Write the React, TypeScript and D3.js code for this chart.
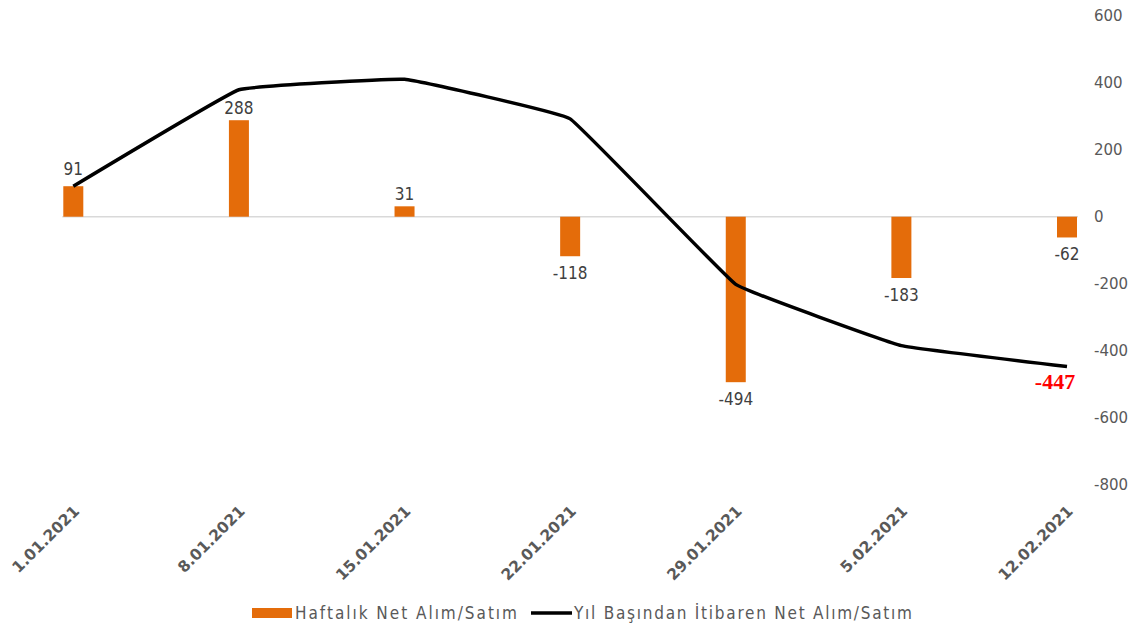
import { useEffect, useRef } from 'react';
import * as d3 from 'd3';

// haftalık veriler
const DATES = ['1.01.2021', '8.01.2021', '15.01.2021', '22.01.2021', '29.01.2021', '5.02.2021', '12.02.2021'];
const WEEKLY = [91, 288, 31, -118, -494, -183, -62];
const CUMULATIVE = [91, 379, 410, 292, -202, -385, -447];
const Y_TICKS = [600, 400, 200, 0, -200, -400, -600, -800];

const LEGEND = [
  { label: 'Haftalık Net Alım/Satım', kind: 'bar', textWidth: 222 },
  { label: 'Yıl Başından İtibaren Net Alım/Satım', kind: 'line', textWidth: 338 },
];

const WIDTH = 1141;
const HEIGHT = 628;
const BAR_COLOR = '#e46c0a';
const AXIS_TEXT = '#595959';
const LABEL_TEXT = '#404040';
const NARROW = "'Liberation Sans Narrow', 'DejaVu Sans Condensed', sans-serif";

export default function App() {
  const svgRef = useRef<SVGSVGElement>(null);

  useEffect(() => {
    document.body.style.margin = '0';
    if (!svgRef.current) return;

    const svg = d3.select(svgRef.current);
    svg.selectAll('*').remove();
    svg.attr('width', WIDTH).attr('height', HEIGHT);

    const x = d3.scalePoint<string>().domain(DATES).range([73.3, 1067]);
    const y = d3.scaleLinear().domain([-800, 600]).range([484.7, 15.7]);
    const barW = 20;

    // sıfır çizgisi
    svg
      .append('line')
      .attr('x1', (x(DATES[0]) as number) - barW / 2 - 1)
      .attr('x2', (x(DATES[DATES.length - 1]) as number) + barW / 2 + 1)
      .attr('y1', y(0))
      .attr('y2', y(0))
      .attr('stroke', '#d9d9d9')
      .attr('stroke-width', 1.5);

    // sağ eksen
    svg
      .append('g')
      .selectAll('text')
      .data(Y_TICKS)
      .enter()
      .append('text')
      .attr('x', 1094)
      .attr('y', (d) => y(d))
      .attr('dy', '0.36em')
      .attr('font-family', "'DejaVu Sans', sans-serif")
      .attr('font-size', 15)
      .attr('fill', AXIS_TEXT)
      .text((d) => String(d));

    // barlar
    svg
      .append('g')
      .selectAll('rect')
      .data(WEEKLY)
      .enter()
      .append('rect')
      .attr('x', (_, i) => (x(DATES[i]) as number) - barW / 2)
      .attr('y', (d) => y(Math.max(0, d)))
      .attr('width', barW)
      .attr('height', (d) => Math.abs(y(d) - y(0)))
      .attr('fill', BAR_COLOR);

    // bar etiketleri
    svg
      .append('g')
      .selectAll('text')
      .data(WEEKLY)
      .enter()
      .append('text')
      .attr('x', (_, i) => x(DATES[i]) as number)
      .attr('y', (d, i) => (d >= 0 ? y(d) - (i === 0 ? 11 : 6) : y(d) + 23))
      .attr('text-anchor', 'middle')
      .attr('font-family', NARROW)
      .attr('font-size', 17)
      .attr('fill', LABEL_TEXT)
      .text((d) => String(d));

    // kümülatif çizgi
    const line = d3
      .line<number>()
      .x((_, i) => x(DATES[i]) as number)
      .y((d) => y(d))
      .curve(d3.curveCardinal.tension(0.8));

    svg
      .append('path')
      .datum(CUMULATIVE)
      .attr('d', line)
      .attr('fill', 'none')
      .attr('stroke', '#000')
      .attr('stroke-width', 3.5)
      .attr('stroke-linejoin', 'round');

    // son değer etiketi
    const last = CUMULATIVE.length - 1;
    svg
      .append('text')
      .attr('x', (x(DATES[last]) as number) - 12)
      .attr('y', y(CUMULATIVE[last]) + 23)
      .attr('text-anchor', 'middle')
      .attr('font-family', "'Liberation Serif', 'Times New Roman', serif")
      .attr('font-weight', 'bold')
      .attr('font-size', 22)
      .attr('fill', '#ff0000')
      .text(String(CUMULATIVE[last]));

    // x ekseni etiketleri
    svg
      .append('g')
      .selectAll('text')
      .data(DATES)
      .enter()
      .append('text')
      .attr('transform', (d) => `translate(${(x(d) as number) + 7},512) rotate(-45)`)
      .attr('text-anchor', 'end')
      .attr('font-family', "'DejaVu Sans', sans-serif")
      .attr('font-weight', 'bold')
      .attr('font-size', 15.5)
      .attr('fill', AXIS_TEXT)
      .text((d) => d);

    // lejant
    const lg = svg.append('g');
    const legendX = [252, 531];
    LEGEND.forEach((item, i) => {
      const lx = legendX[i];
      if (item.kind === 'bar') {
        lg.append('rect').attr('x', lx).attr('y', 608).attr('width', 40).attr('height', 10).attr('fill', BAR_COLOR);
      } else {
        lg.append('line')
          .attr('x1', lx)
          .attr('x2', lx + 41)
          .attr('y1', 613)
          .attr('y2', 613)
          .attr('stroke', '#000')
          .attr('stroke-width', 3.5);
      }
      lg.append('text')
        .attr('x', lx + 43)
        .attr('y', 619)
        .attr('font-family', "'DejaVu Sans Condensed', 'DejaVu Sans', sans-serif")
        .attr('font-size', 17)
        .attr('fill', AXIS_TEXT)
        .attr('textLength', item.textWidth)
        .attr('lengthAdjust', 'spacing')
        .text(item.label);
    });
  }, []);

  return <svg ref={svgRef} style={{ display: 'block' }}></svg>;
}
